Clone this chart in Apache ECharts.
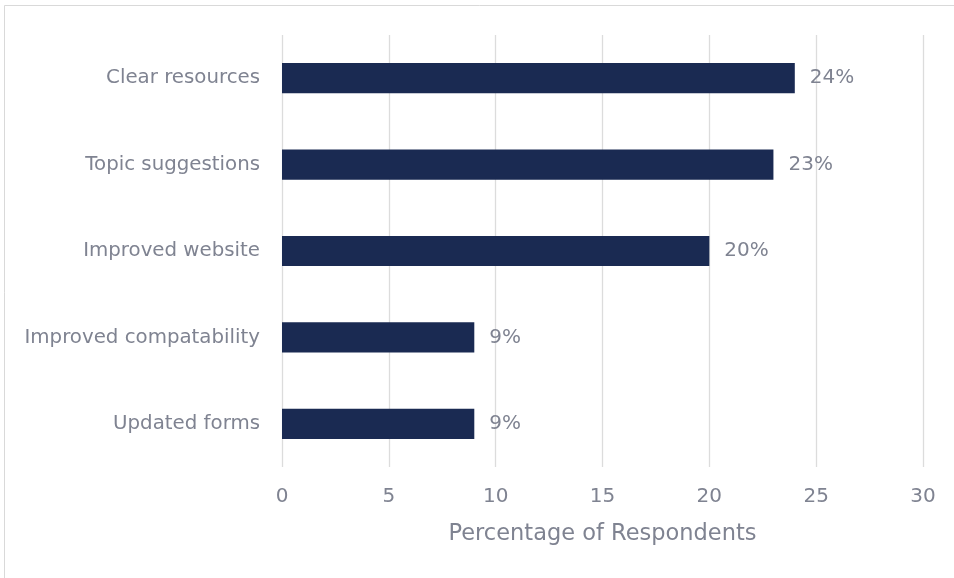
<!DOCTYPE html>
<html><head><meta charset="utf-8">
<script src="https://cdn.jsdelivr.net/npm/echarts@6/dist/echarts.min.js"></script>
<style>html,body{margin:0;padding:0;background:#fff}#c{width:954px;height:578px}</style>
</head><body><div id="c"></div>
<script>
const categories = ["Clear resources","Topic suggestions","Improved website","Improved compatability","Updated forms"];
const values = [24, 23, 20, 9, 9];
const xTicks = [0, 5, 10, 15, 20, 25, 30];
const axisTitle = "Percentage of Respondents";

const chart = echarts.init(document.getElementById('c'), null, {renderer:'canvas'});
const txt = '#7f8391';
const font = '"DejaVu Sans", "Noto Sans", sans-serif';
chart.setOption({
  animation:false,
  backgroundColor:'#fff',
  graphic:[{type:'rect', shape:{x:4.5,y:5.5,width:980,height:600}, style:{fill:'none', stroke:'#d9d9d9', lineWidth:1}}],
  grid:{left:282, right:31, top:35, bottom:111, containLabel:false},
  xAxis:{type:'value', min:xTicks[0], max:xTicks[xTicks.length-1], interval:5,
    name:axisTitle, nameLocation:'middle', nameGap:56,
    nameTextStyle:{color:txt, fontSize:22.5, fontFamily:font},
    axisLine:{show:false}, axisTick:{show:false},
    axisLabel:{color:txt, fontSize:20, fontFamily:font, margin:20},
    splitLine:{show:true, lineStyle:{color:'#dcdcdc', width:1.3}}},
  yAxis:{type:'category', data:categories, inverse:true,
    axisLine:{show:false}, axisTick:{show:false},
    axisLabel:{color:txt, fontSize:19.8, fontFamily:font, margin:22},
    splitLine:{show:false}},
  series:[{type:'bar', data:values, barWidth:'35%',
    itemStyle:{color:'#1a2a52'},
    label:{show:true, position:'right', distance:15, formatter:'{c}%', color:txt, fontSize:20, fontFamily:font}}]
});
</script></body></html>
